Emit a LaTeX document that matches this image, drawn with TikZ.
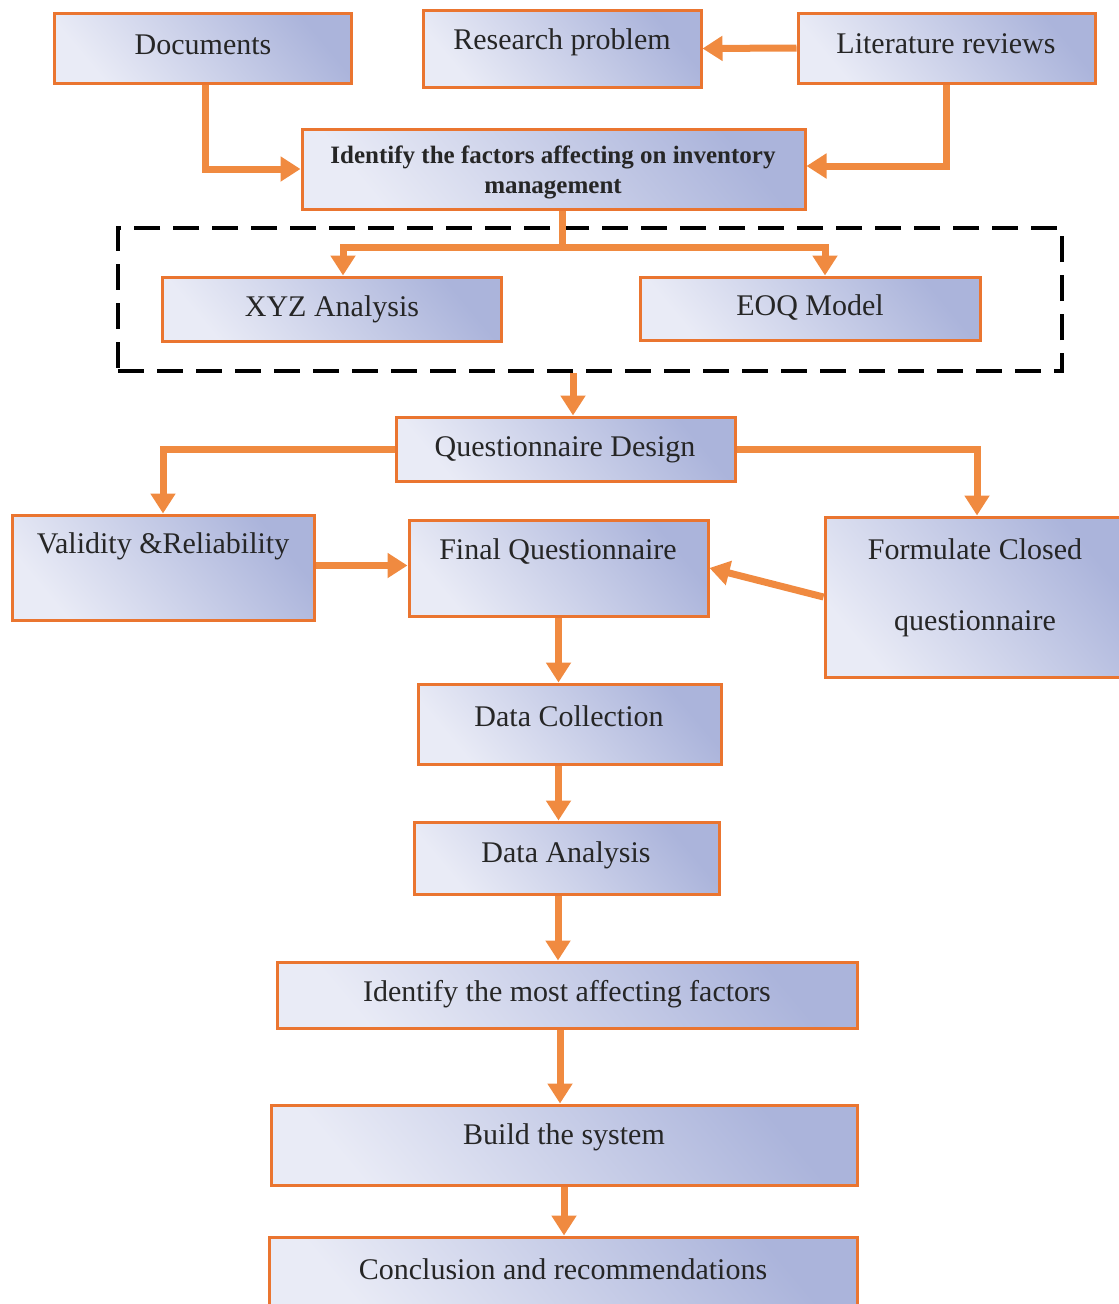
\documentclass[tikz,border=0pt]{standalone}
\usepackage{fontspec}
\setmainfont{Liberation Serif}
\usetikzlibrary{arrows.meta}
\definecolor{boxborder}{HTML}{EA7530}
\definecolor{arrowor}{HTML}{F08A40}
\definecolor{shdark}{HTML}{ABB4DB}
\definecolor{shlight}{HTML}{E9EBF6}
\definecolor{txtc}{HTML}{262626}
\tikzset{
  box/.style={draw=boxborder, line width=3pt, top color=shdark, bottom color=shlight, shading angle=-50, inner sep=0pt},
  txt/.style={font=\fontsize{30}{34}\selectfont, text=txtc, inner sep=0pt, align=center},
  btxt/.style={font=\bfseries\fontsize{25}{30}\selectfont, text=txtc, inner sep=0pt, align=center},
  conn/.style={draw=arrowor, line width=7pt, -{Triangle[length=20pt,width=24pt]}},
  connline/.style={draw=arrowor, line width=7pt},
  grpbox/.style={draw=black, line width=4pt, dash pattern=on 26pt off 13pt, inner sep=0pt}
}
\begin{document}
\begin{tikzpicture}[x=1pt,y=-1pt]
\useasboundingbox (0,0) rectangle (1119,1304);
% boxes
\node[box, minimum width=297pt, minimum height=70pt] (doc) at (202.5,48) {};
\node[box, minimum width=278pt, minimum height=77pt] (rp) at (562,48.5) {};
\node[box, minimum width=297pt, minimum height=70pt] (lit) at (946.5,48) {};
\node[box, minimum width=503pt, minimum height=80pt] (idf) at (553.5,169) {};
\node[grpbox, minimum width=944pt, minimum height=143pt] (grp) at (590,299.5) {};
\node[box, minimum width=339pt, minimum height=64pt] (xyz) at (331.5,309) {};
\node[box, minimum width=340pt, minimum height=63pt] (eoq) at (810,308.5) {};
\node[box, minimum width=339pt, minimum height=64pt] (qd) at (565.5,449) {};
\node[box, minimum width=302pt, minimum height=105pt] (val) at (163,567.5) {};
\node[box, minimum width=299pt, minimum height=96pt] (fin) at (558.5,568) {};
\node[box, minimum width=300pt, minimum height=160pt] (frm) at (975,597) {};
\node[box, minimum width=303pt, minimum height=80pt] (dc) at (569.5,724) {};
\node[box, minimum width=305pt, minimum height=72pt] (da) at (566.5,858) {};
\node[box, minimum width=580pt, minimum height=66pt] (im) at (567,995) {};
\node[box, minimum width=586pt, minimum height=80pt] (bs) at (564,1145) {};
\node[box, minimum width=588pt, minimum height=74pt] (cr) at (563,1274) {};
% texts
\node[txt] (docT) at (203,45) {Documents};
\node[txt] (rpT) at (562,42) {Research problem};
\node[txt] (litT) at (946,44) {Literature reviews};
\node[btxt] (idfT) at (553,172) {Identify the factors affecting on inventory\\management};
\node[txt] (xyzT) at (332,309) {XYZ Analysis};
\node[txt] (eoqT) at (810,308) {EOQ Model};
\node[txt] (qdT) at (565,450) {Questionnaire Design};
\node[txt] (valT) at (163,546) {Validity \&Reliability};
\node[txt] (finT) at (558,552) {Final Questionnaire};
\node[txt] (frmT1) at (975,549) {Formulate Closed};
\node[txt] (frmT2) at (975,624) {questionnaire};
\node[txt] (dcT) at (569,716) {Data Collection};
\node[txt] (daT) at (566,855) {Data Analysis};
\node[txt] (imT) at (567,994) {Identify the most affecting factors};
\node[txt] (bsT) at (564,1137) {Build the system};
\node[txt] (crT) at (563,1269) {Conclusion and recommendations};
% connectors
\draw[conn] ([xshift=2.5pt]doc.south) |- (idf.west);
\draw[conn] (lit.south) |- ([yshift=3pt]idf.east);
\draw[conn] (lit.west) -- (rp.east);
\coordinate (j) at (562,247);
\draw[connline] (idf.south -| j) -- (j);
\draw[conn] (j) -| ([xshift=11.5pt]xyz.north);
\draw[conn] (j) -| ([xshift=15pt]eoq.north);
\draw[conn] ([xshift=-17pt]grp.south) -- ([xshift=-17pt]grp.south |- qd.north);
\draw[conn] (qd.west) -| (val.north);
\draw[conn] (qd.east) -| ([xshift=2pt]frm.north);
\draw[conn] ([yshift=2pt]val.east) -- ([yshift=2pt]val.east -| fin.west);
\draw[conn] (frm.west) -- (fin.east);
\draw[conn] (fin.south) -- (fin.south |- dc.north);
\draw[conn] ([xshift=-11pt]dc.south) -- ([xshift=-11pt]dc.south |- da.north);
\draw[conn] ([xshift=-8.5pt]da.south) -- ([xshift=-8.5pt]da.south |- im.north);
\draw[conn] ([xshift=-7pt]im.south) -- ([xshift=-7pt]im.south |- bs.north);
\draw[conn] (bs.south) -- (bs.south |- cr.north);
\end{tikzpicture}
\end{document}
